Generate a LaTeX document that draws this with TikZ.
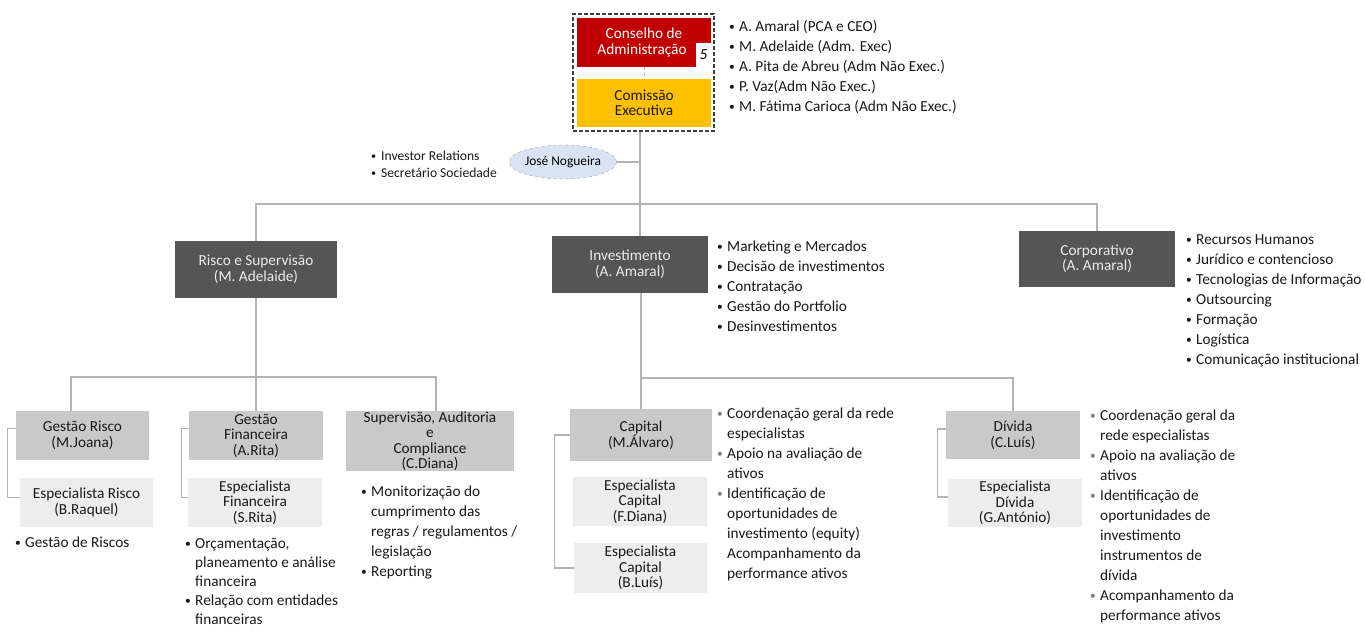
\documentclass[tikz,border=0pt]{standalone}
\usepackage{fontspec}
\setmainfont{Carlito}
\usetikzlibrary{shapes.geometric, positioning}

\definecolor{cgdred}{HTML}{C00000}
\definecolor{cgdamber}{HTML}{FFC000}
\definecolor{cgddark}{HTML}{555555}
\definecolor{cgdmid}{HTML}{C9C9C9}
\definecolor{cgdlight}{HTML}{EDEDED}
\definecolor{cgdline}{HTML}{B4B4B4}
\definecolor{cgdblue}{HTML}{DAE3F3}

\newcommand{\boxfont}{\fontsize{15.3}{15.5}\selectfont}
\newcommand{\listfont}{\fontsize{15.3}{20}\selectfont}
\newcommand{\smallfont}{\fontsize{13.6}{17}\selectfont}
\newcommand{\dotmark}{\raisebox{0.6pt}{\scalebox{0.75}{\textbullet}}}
\newcommand{\bitem}[1]{\strut\makebox[10pt][l]{\dotmark}#1}
\newcommand{\gitem}[1]{\strut\makebox[10pt][l]{\textcolor{gray}{\dotmark}}#1}
\newcommand{\bcont}[1]{\strut\hspace*{10pt}#1}
\newcommand{\blast}[1]{\hspace*{10pt}#1}

\begin{document}
\begin{tikzpicture}[
    x=1pt, y=-1pt,
    anybox/.style={rectangle, inner sep=0pt, align=center, font=\boxfont},
    headbox/.style={anybox, fill=cgddark, text=white!92!black},
    unitbox/.style={anybox, fill=cgdmid, text=black!90},
    specbox/.style={anybox, fill=cgdlight, text=black!90},
    link/.style={draw=cgdline, line width=1.3pt},
    bullets/.style={anchor=north west, inner sep=0pt, align=left, font=\listfont, text=black!90}
]
\useasboundingbox (0,0) rectangle (1365,630);

% board
\node[anybox, draw=black!75, dash pattern=on 4pt off 2pt, line width=1.4pt, minimum width=141pt, minimum height=117pt] (frame) at (643.5,72.5) {};
\node[anybox, fill=cgdred, text=white, minimum width=134pt, minimum height=49pt] (conselho) at (644,42.5) {Conselho de\\Administração\hspace*{4pt}};
\node[anybox, fill=cgdamber, text=black!90, minimum width=134pt, minimum height=48pt] (comissao) at (644,103) {Comissão\\Executiva};
\node[anybox, fill=white, minimum width=15pt, minimum height=24pt] (nbadge) at (703.5,55) {\itshape 5};
\draw[cgdline, line width=0.8pt, dashed] (conselho) -- (comissao);

\node[bullets] (boardlist) at (729,17) {\bitem{A. Amaral (PCA e CEO)}\\ \bitem{M. Adelaide (Adm. Exec)}\\ \bitem{A. Pita de Abreu (Adm Não Exec.)}\\ \bitem{P. Vaz(Adm Não Exec.)}\\ \bitem{M. Fátima Carioca (Adm Não Exec.)}};

% secretary
\node[ellipse, draw=black!35, dashed, fill=cgdblue, minimum width=98pt, minimum height=34pt, inner sep=0pt, font=\fontsize{13.4}{15}\selectfont] (josenog) at (563,162) {José Nogueira};
\node[bullets, font=\smallfont] (irlist) at (371,148) {\bitem{Investor Relations}\\ \bitem{Secretário Sociedade}};

% first level
\node[headbox, minimum width=162pt, minimum height=57pt] (risco) at (256,269.5) {Risco e Supervisão\\(M. Adelaide)};
\node[headbox, minimum width=156pt, minimum height=57pt] (invest) at (630,264.5) {Investimento\\(A. Amaral)};
\node[headbox, minimum width=156pt, minimum height=56pt] (corp) at (1097,259) {Corporativo\\(A. Amaral)};

\coordinate (mainx) at (640,204);
\draw[link] (frame.south -| mainx) -- (invest.north -| mainx);
\draw[link] (josenog.east) -- (josenog.east -| mainx);
\draw[link] (risco.north) |- (mainx) -| (corp.north);

\node[bullets] (invlist) at (717,237) {\bitem{Marketing e Mercados}\\ \bitem{Decisão de investimentos}\\ \bitem{Contratação}\\ \bitem{Gestão do Portfolio}\\ \bitem{Desinvestimentos}};
\node[bullets] (corplist) at (1186,230) {\bitem{Recursos Humanos}\\ \bitem{Jurídico e contencioso}\\ \bitem{Tecnologias de Informação}\\ \bitem{Outsourcing}\\ \bitem{Formação}\\ \bitem{Logística}\\ \bitem{Comunicação institucional}};

% risco e supervisao
\node[unitbox, minimum width=133pt, minimum height=49pt] (grisco) at (82.5,435.5) {Gestão Risco\\(M.Joana)};
\node[specbox, minimum width=133pt, minimum height=49pt] (erisco) at (86.5,502.5) {Especialista Risco\\(B.Raquel)};
\node[unitbox, minimum width=134pt, minimum height=49pt] (gfin) at (256,435.5) {Gestão\\Financeira\\(A.Rita)};
\node[specbox, minimum width=134pt, minimum height=49pt] (efin) at (255,502.5) {Especialista\\Financeira\\(S.Rita)};
\node[unitbox, minimum width=168pt, minimum height=60pt] (superv) at (430,441) {Supervisão, Auditoria\\e\\Compliance\\(C.Diana)};

\coordinate (dropgr) at (71,377);
\coordinate (dropsv) at (436,377);
\draw[link] (grisco.north -| dropgr) -- (dropgr) -- (dropsv) -- (superv.north -| dropsv);
\draw[link] (risco.south) -- (gfin.north);
\draw[link] ([yshift=7pt]grisco.west) -| ([xshift=-12pt,yshift=5pt]erisco.west) -- ([yshift=5pt]erisco.west);
\draw[link] ([yshift=7pt]gfin.west) -| ([xshift=-6pt,yshift=5pt]efin.west) -- ([yshift=5pt]efin.west);

\node[bullets] (grlist) at (15,533) {\bitem{Gestão de Riscos}};
\node[bullets, font=\fontsize{15.3}{19}\selectfont] (finlist) at (185,535) {\bitem{Orçamentação,}\\ \bcont{planeamento e análise}\\ \bcont{financeira}\\ \bitem{Relação com entidades}\\ \blast{financeiras}};
\node[bullets] (suplist) at (361,482) {\bitem{Monitorização do}\\ \bcont{cumprimento das}\\ \bcont{regras / regulamentos /}\\ \bcont{legislação}\\ \bitem{Reporting}};

% investimento
\node[unitbox, minimum width=142pt, minimum height=52pt] (capital) at (641,435) {Capital\\(M.Álvaro)};
\node[specbox, minimum width=134pt, minimum height=49pt] (ecapf) at (640,501.5) {Especialista\\Capital\\(F.Diana)};
\node[specbox, minimum width=133pt, minimum height=50pt] (ecapb) at (640.5,568) {Especialista\\Capital\\(B.Luís)};
\node[unitbox, minimum width=134pt, minimum height=48pt] (divida) at (1013,435) {Dívida\\(C.Luís)};
\node[specbox, minimum width=134pt, minimum height=48pt] (ediv) at (1015,503) {Especialista\\Dívida\\(G.António)};

\coordinate (dropdv) at (0,378);
\draw[link] (invest.south -| capital) -- (capital.north);
\draw[link] (capital.north |- dropdv) -| (divida.north);
\draw[link] (capital.west) -| ([xshift=-19pt]ecapb.west) -- (ecapb.west);
\draw[link] ([yshift=6pt]divida.west) -| ([xshift=-10pt,yshift=6pt]ediv.west) -- ([yshift=6pt]ediv.west);

\node[bullets] (caplist) at (717,404) {\gitem{Coordenação geral da rede}\\ \bcont{especialistas}\\ \gitem{Apoio na avaliação de}\\ \bcont{ativos}\\ \gitem{Identificação de}\\ \bcont{oportunidades de}\\ \bcont{investimento (equity)}\\ \bcont{Acompanhamento da}\\ \bcont{performance ativos}};
\node[bullets] (divlist) at (1090,406) {\gitem{Coordenação geral da}\\ \bcont{rede especialistas}\\ \gitem{Apoio na avaliação de}\\ \bcont{ativos}\\ \gitem{Identificação de}\\ \bcont{oportunidades de}\\ \bcont{investimento}\\ \bcont{instrumentos de}\\ \bcont{dívida}\\ \gitem{Acompanhamento da}\\ \bcont{performance ativos}};

\end{tikzpicture}
\end{document}
